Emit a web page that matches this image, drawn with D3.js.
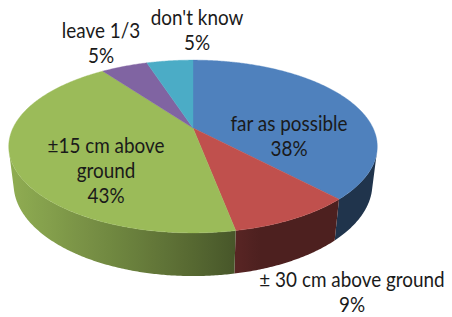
<!DOCTYPE html>
<html>
<head>
<meta charset="utf-8">
<script src="https://cdn.jsdelivr.net/npm/d3@7"></script>
<style>
body { margin: 0; background: #fff; }
</style>
</head>
<body>
<svg id="chart" width="452" height="317"></svg>
<script>

var categories = ["far as possible", "± 30 cm above ground", "±15 cm above ground", "leave 1/3", "don't know"];
var values = [38, 9, 43, 5, 5];
// label text broken into lines the way the chart shows it
var labelLines = [["far as possible"], ["± 30 cm above ground"], ["±15 cm above", "ground"], ["leave 1/3"], ["don't know"]];
var colors = ["#4F81BD", "#C0504D", "#9BBB59", "#8064A2", "#4BACC6"];

// layout: centre x and first baseline of each label
var labelPos = [[289, 131], [352, 287], [106, 153], [101, 38], [197, 25]];

var CX = 193, CY = 128,      // projected centre of the top face
	F = 747, D = 4.15,         // focal length, camera distance (radius = 1)
	COS_E = 0.889, SIN_E = 0.458,
	H = 0.236,                 // thickness of the disc
	LINE_H = 25,
	STEP = Math.PI / 360;

var svg = d3.select("#chart");

// perspective projection of a point on the disc
function project(a, r, z) {
	var x = r * Math.sin(a),
		y = r * Math.cos(a),
		depth = D + y * COS_E - z * SIN_E;
	return [CX + F * x / depth, CY - F * (y * SIN_E + z * COS_E) / depth];
}

function arcPoints(a0, a1, z) {
	var pts = [], n = Math.max(1, Math.ceil(Math.abs(a1 - a0) / STEP));
	for (var i = 0; i <= n; i++) {
		pts.push(project(a0 + (a1 - a0) * i / n, 1, z));
	}
	return pts;
}

// side lighting, light from the left and a bit from the front
function shade(base, a) {
	var nx = Math.sin(a), ny = Math.cos(a),
		diff = Math.max(0, -0.954 * nx - 0.301 * ny),
		f = 0.4 + 0.52 * diff,
		c = d3.rgb(base);
	return d3.rgb(c.r * f, c.g * f, c.b * f).formatHex();
}

var arcs = d3.pie().sort(null).value(function(d) { return d; })(values);
var line = d3.line();

// visible part of the rim
var visA0 = Math.acos(-1 / (D * COS_E)),
	visA1 = 2 * Math.PI - visA0;

var defs = svg.append("defs");
var sides = svg.append("g").attr("class", "sides");

arcs.forEach(function(d, i) {
	var a0 = Math.max(d.startAngle, visA0),
		a1 = Math.min(d.endAngle, visA1);
	if (a0 >= a1) return;

	var x0 = project(a0, 1, 0)[0],
		x1 = project(a1, 1, 0)[0],
		grad = defs.append("linearGradient")
			.attr("id", "side" + i)
			.attr("gradientUnits", "userSpaceOnUse")
			.attr("x1", x0).attr("x2", x1)
			.attr("y1", 0).attr("y2", 0);

	var n = 24;
	for (var k = 0; k <= n; k++) {
		var a = a0 + (a1 - a0) * k / n,
			x = project(a, 1, 0)[0];
		grad.append("stop")
			.attr("offset", (x - x0) / (x1 - x0))
			.attr("stop-color", shade(colors[i], a));
	}

	var pts = arcPoints(a0, a1, 0).concat(arcPoints(a1, a0, -H));
	sides.append("path")
		.attr("d", line(pts) + "Z")
		.attr("fill", "url(#side" + i + ")");
});

var topFace = svg.append("g").attr("class", "top-face");

topFace.selectAll("path")
	.data(arcs)
	.enter()
	.append("path")
		.attr("d", function(d) {
			var pts = [project(0, 0, 0)].concat(arcPoints(d.startAngle, d.endAngle, 0));
			return line(pts) + "Z";
		})
		.attr("fill", function(d, i) { return colors[i]; })
		.attr("stroke", function(d, i) { return colors[i]; })
		.attr("stroke-width", 0.4);

var labels = svg.append("g").attr("class", "labels")
	.selectAll("g")
	.data(arcs)
	.enter()
	.append("g")
		.attr("transform", function(d, i) {
			return "translate(" + labelPos[i][0] + "," + labelPos[i][1] + ") scale(0.9,1)";
		});

labels.append("text")
	.attr("text-anchor", "middle")
	.attr("font-family", "Lato, 'Liberation Sans', sans-serif")
	.attr("font-size", 21)
	.attr("fill", "#1a1a1a")
	.selectAll("tspan")
	.data(function(d, i) { return labelLines[i].concat([values[i] + "%"]); })
	.enter()
	.append("tspan")
		.attr("x", 0)
		.attr("y", function(t, j) { return j * LINE_H; })
		.text(function(t) { return t; });

</script>
</body>
</html>
